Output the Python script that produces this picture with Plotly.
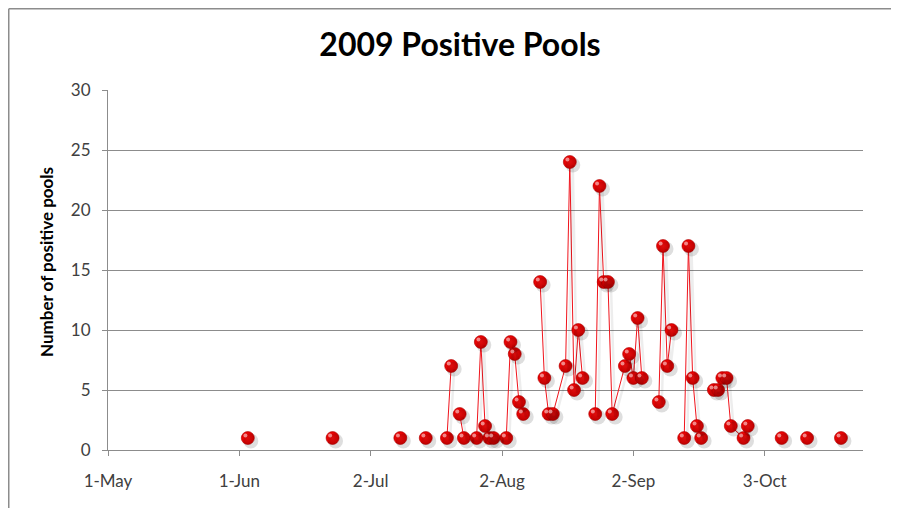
import plotly.graph_objects as go
from datetime import datetime, timedelta

# ---- data (None = blank cell -> line gap) ----
dates = [
    "2009-06-03", "2009-06-04",
    "2009-06-23", "2009-06-24",
    "2009-07-09", "2009-07-10",
    "2009-07-15", "2009-07-16",
    "2009-07-20", "2009-07-21", "2009-07-22",
    "2009-07-23", "2009-07-24", "2009-07-27", "2009-07-28", "2009-07-29",
    "2009-07-30", "2009-07-31", "2009-08-03", "2009-08-04", "2009-08-05",
    "2009-08-06", "2009-08-07", "2009-08-08",
    "2009-08-11", "2009-08-12", "2009-08-13", "2009-08-14", "2009-08-17",
    "2009-08-18", "2009-08-19", "2009-08-20", "2009-08-21", "2009-08-22",
    "2009-08-24", "2009-08-25", "2009-08-26", "2009-08-27", "2009-08-28",
    "2009-08-31", "2009-09-01", "2009-09-02", "2009-09-03", "2009-09-04",
    "2009-09-05",
    "2009-09-08", "2009-09-09", "2009-09-10", "2009-09-11", "2009-09-12",
    "2009-09-14", "2009-09-15", "2009-09-16", "2009-09-17", "2009-09-18",
    "2009-09-19",
    "2009-09-21", "2009-09-22", "2009-09-23", "2009-09-24", "2009-09-25",
    "2009-09-28", "2009-09-29", "2009-09-30",
    "2009-10-07", "2009-10-08",
    "2009-10-13", "2009-10-14",
    "2009-10-21",
]
positive_pools = [
    1, None,
    1, None,
    1, None,
    1, None,
    1, 7, None,
    3, 1, 1, 9, 2,
    1, 1, 1, 9, 8,
    4, 3, None,
    14, 6, 3, 3, 7,
    24, 5, 10, 6, None,
    3, 22, 14, 14, 3,
    7, 8, 6, 11, 6,
    None,
    4, 17, 7, 10, None,
    1, 17, 6, 2, 1,
    None,
    5, 5, 6, 6, 2,
    1, 2, None,
    1, None,
    1, None,
    1,
]

tick_dates = ["2009-05-01", "2009-06-01", "2009-07-02", "2009-08-02", "2009-09-02", "2009-10-03"]
tick_labels = ["1-May", "1-Jun", "2-Jul", "2-Aug", "2-Sep", "3-Oct"]
y_ticks = [0, 5, 10, 15, 20, 25, 30]

title_text = "2009 Positive Pools"
y_title = "Number of positive pools"

# ---- geometry (figure sits at page offset 8,8) ----
W, H = 891, 500
L, R, T, B = 100, 36, 82, 58
PW = W - L - R   # 755
PH = H - T - B   # 360

x_start = datetime(2009, 5, 1)
x_end = x_start + timedelta(days=178.2)
px_per_day = PW / 178.2
px_per_unit = PH / 30
shadow_dx = 3.0 / px_per_day
shadow_dy = 3.0 / px_per_unit
hl = 2.4

fig = go.Figure()

# soft shadow layer (same data on an overlay axis shifted a few pixels)
fig.add_trace(go.Scatter(
    x=dates, y=positive_pools, mode="lines+markers",
    xaxis="x2", yaxis="y2",
    line=dict(color="rgba(0,0,0,0.07)", width=2.5),
    marker=dict(size=15, color="rgba(0,0,0,0.13)", line=dict(width=0)),
    hoverinfo="skip", showlegend=False,
))
fig.add_trace(go.Scatter(
    x=dates, y=positive_pools, mode="lines+markers",
    line=dict(color="#f0141c", width=1),
    marker=dict(size=13, color="#e00000",
                gradient=dict(type="radial", color="#ff1010"),
                line=dict(width=0.6, color="#b00000")),
    showlegend=False,
))
# specular highlight
fig.add_trace(go.Scatter(
    x=dates, y=positive_pools, mode="markers",
    xaxis="x3", yaxis="y3",
    marker=dict(size=4, color="rgba(255,220,220,0.6)", line=dict(width=0)),
    hoverinfo="skip", showlegend=False,
))

axis_font = dict(family="Lato, Carlito, Calibri, sans-serif", size=17, color="#404040")

fig.update_layout(
    width=W, height=H,
    margin=dict(l=L, r=R, t=T, b=B),
    paper_bgcolor="white", plot_bgcolor="white",
    title=dict(text="<b>%s</b>" % title_text, x=452 / W, xanchor="center",
               xref="container", y=1 - 37 / H, yanchor="middle",
               font=dict(family="Lato, Carlito, Calibri, sans-serif", size=32, color="#000000")),
    xaxis=dict(type="date", range=[x_start, x_end], tickvals=tick_dates, ticktext=tick_labels,
               showgrid=False, showline=True, linecolor="#8c8c8c", linewidth=1,
               ticks="outside", ticklen=5, tickcolor="#8c8c8c", tickfont=axis_font,
               ticklabelstandoff=11, zeroline=False),
    yaxis=dict(range=[0, 30], tickvals=y_ticks, showgrid=True, gridcolor="#8c8c8c", gridwidth=1,
               showline=True, linecolor="#8c8c8c", linewidth=1, ticks="outside", ticklen=5,
               tickcolor="#8c8c8c", tickfont=axis_font, ticklabelstandoff=8, zeroline=False),
    xaxis2=dict(type="date", overlaying="x",
                range=[x_start - timedelta(days=shadow_dx), x_end - timedelta(days=shadow_dx)],
                visible=False),
    yaxis2=dict(overlaying="y", range=[0 + shadow_dy, 30 + shadow_dy], visible=False),
    xaxis3=dict(type="date", overlaying="x",
                range=[x_start + timedelta(days=hl / px_per_day), x_end + timedelta(days=hl / px_per_day)],
                visible=False),
    yaxis3=dict(overlaying="y", range=[0 - hl / px_per_unit, 30 - hl / px_per_unit], visible=False),
    annotations=[dict(text="<b>%s</b>" % y_title, textangle=-90, xref="paper", yref="paper",
                      x=(38 - L) / PW, y=(PH + T - 254) / PH, xanchor="center", yanchor="middle",
                      showarrow=False,
                      font=dict(family="Lato, Carlito, Calibri, sans-serif", size=17, color="#000000"))],
    shapes=[
        dict(type="line", xref="paper", yref="paper", x0=(0.75 - L) / PW, x1=(0.75 - L) / PW,
             y0=(PH + T - 520) / PH, y1=(PH + T - 0.75) / PH, line=dict(color="#8c8c8c", width=1.5)),
        dict(type="line", xref="paper", yref="paper", x0=(0.75 - L) / PW, x1=(900 - L) / PW,
             y0=(PH + T - 0.75) / PH, y1=(PH + T - 0.75) / PH, line=dict(color="#8c8c8c", width=1.5)),
    ],
)

fig.write_html("out.html")
